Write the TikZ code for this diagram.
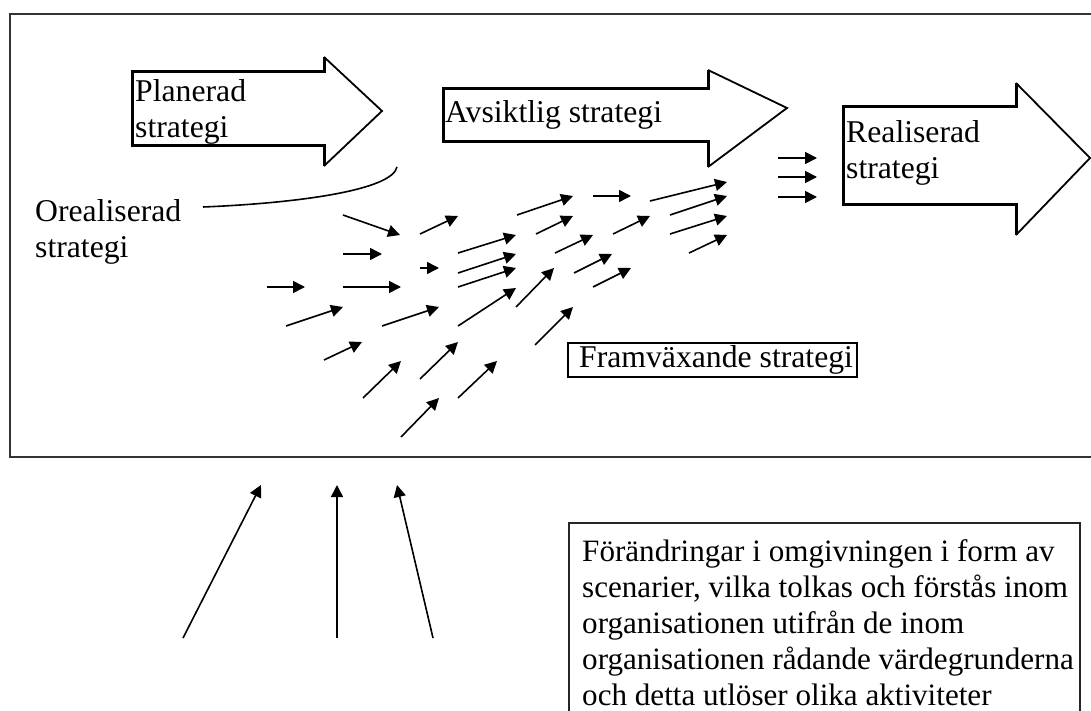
\documentclass[tikz,border=0pt]{standalone}
\usepackage{fontspec}
\setmainfont{Liberation Serif}
\usetikzlibrary{arrows.meta}
\begin{document}
\begin{tikzpicture}[x=1pt,y=-1pt,
  % multi-line labels sit on the baseline of their last line
  lbl/.style={anchor=base west,inner sep=0pt,align=left,font=\fontsize{31.7}{36}\selectfont},
  flow/.style={line width=1.6pt,-{Triangle[length=12pt,width=12pt]}},
  body/.style={line width=3pt,line join=miter},
  headline/.style={line width=1.8pt,line join=miter},
]
\useasboundingbox (0,0) rectangle (1091,711);
\fill[white] (0,0) rectangle (1091,711);

% outer frame and the explanation box, both running past the page edge
\begin{scope}
  \clip (0,0) rectangle (1091,711);
  \draw[line width=1.6pt, black!80] (10,14) rectangle (1110,457);
  \draw[line width=1.2pt, black!85] (569,523) rectangle (1080,730);
\end{scope}

% block arrow: planned strategy
\draw[body] (324,57) -- (324,72) -- (132,72) -- (132,146) -- (324,146) -- (324,166);
\draw[headline] (324,57) -- (382,111) -- (324,166);
\node[lbl] (plan) at (135,138) {Planerad\\strategi};

% block arrow: intended strategy
\draw[body] (708,70) -- (708,89) -- (443,89) -- (443,142) -- (708,142) -- (708,167);
\draw[headline] (708,70) -- (787,108) -- (708,167);
\node[lbl] (avs) at (445,123) {Avsiktlig strategi};

% block arrow: realised strategy
\draw[body] (1016,83) -- (1016,107) -- (843,107) -- (843,205) -- (1016,205) -- (1016,235);
\draw[headline] (1016,83) -- (1090,158) -- (1016,235);
\node[lbl] (real) at (846,179) {Realiserad\\strategi};

% unrealised strategy branching off
\node[lbl] (oreal) at (35,258) {Orealiserad\\strategi};
\draw[line width=1.6pt] (203,207) .. controls (300,203) and (392,190) .. (397,167);

% emergent strategy label
\draw[line width=1.2pt] (568,343) rectangle (857,377);
\node[lbl] (fram) at (579,367) {Framväxande strategi};

% field of small arrows
\foreach \xa/\ya/\xb/\yb in {
  343/215/400/235, 420/234/458/216, 343/254/382/254, 420/268/439/268,
  267/287/305/287, 343/287/401/287, 286/326/343/307, 382/326/439/307,
  324/360/362/342, 363/398/401/361, 420/379/458/342, 401/437/439/398,
  517/215/573/196, 593/196/631/196, 650/201/727/182, 536/234/573/216,
  613/234/650/216, 670/215/727/196, 670/234/727/216, 458/253/516/235,
  555/253/593/235, 689/253/727/235, 458/273/516/254, 574/273/612/254,
  458/287/516/268, 593/287/631/268, 516/307/554/268, 458/326/516/288,
  535/345/573/307, 458/398/497/361,
  778/158/817/158, 778/177/817/177, 778/197/817/197}
  \draw[flow] (\xa,\ya) -- (\xb,\yb);

% influences from the environment
\coordinate (e1) at (183,638); \coordinate (f1) at (261,485);
\coordinate (e2) at (337,638); \coordinate (f2) at (337,485);
\coordinate (e3) at (433,638); \coordinate (f3) at (397,485);
\draw[flow] (e1) -- (f1);
\draw[flow] (e2) -- (f2);
\draw[flow] (e3) -- (f3);

\node[lbl, font=\fontsize{31.1}{36}\selectfont] (env) at (582,705) {Förändringar i omgivningen i form av\\
scenarier, vilka tolkas och förstås inom\\
organisationen utifrån de inom\\
organisationen rådande värdegrunderna\\
och detta utlöser olika aktiviteter};
\end{tikzpicture}
\end{document}
